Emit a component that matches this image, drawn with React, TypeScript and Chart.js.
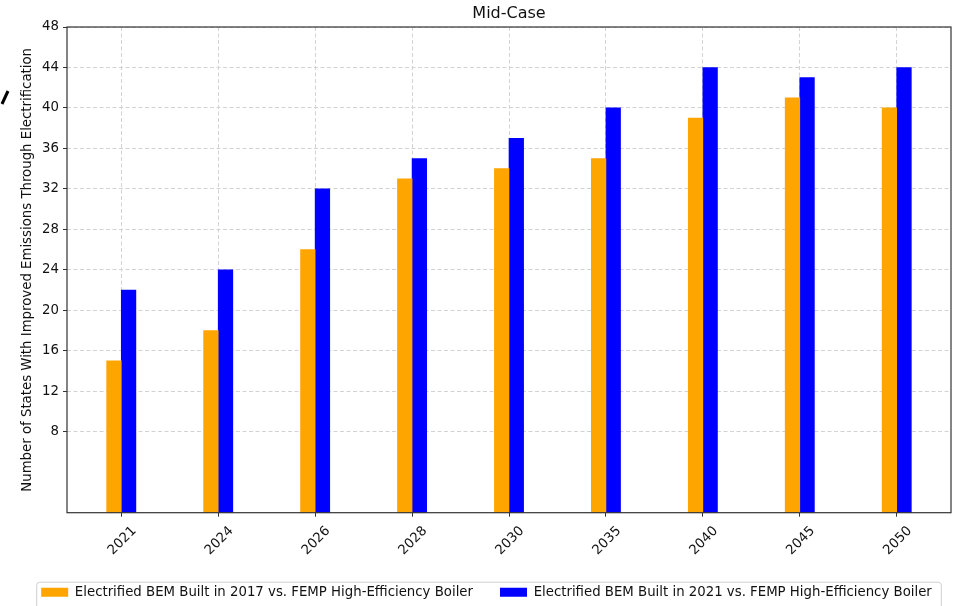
import React, { useEffect, useRef } from 'react';
import { Chart, registerables } from 'chart.js';

Chart.register(...registerables);

const chartTitle = 'Mid-Case';
const yAxisTitle = 'Number of States With Improved Emissions Through Electrification';
const categories = ['2021', '2024', '2026', '2028', '2030', '2035', '2040', '2045', '2050'];
const series2017 = [15, 18, 26, 33, 34, 35, 39, 41, 40];
const series2021 = [22, 24, 32, 35, 37, 40, 44, 43, 44];
const seriesLabels = [
  'Electrified BEM Built in 2017 vs. FEMP High-Efficiency Boiler',
  'Electrified BEM Built in 2021 vs. FEMP High-Efficiency Boiler',
];
const yTicks = [8, 12, 16, 20, 24, 28, 32, 36, 40, 44, 48];

const ORANGE = '#FFA500';
const BLUE = '#0000FF';
const FONT = "'DejaVu Sans', sans-serif";
const FS = 13.3;
const TEXT = '#111';
const GRID = '#d3d3d3';
const AXIS = '#333';

const decorPlugin = {
  id: 'decor',
  afterLayout(chart: any) {
    const lg = chart.legend;
    if (lg) {
      lg.left += 6;
      lg.right += 6;
    }
  },
  afterDatasetsDraw(chart: any) {
    const { ctx, chartArea } = chart;
    ctx.save();
    ctx.strokeStyle = AXIS;
    ctx.lineWidth = 1.2;
    ctx.strokeRect(chartArea.left, chartArea.top, chartArea.right - chartArea.left, chartArea.bottom - chartArea.top);
    ctx.restore();
  },
  afterDraw(chart: any) {
    const { ctx, chartArea } = chart;
    ctx.save();
    ctx.font = `16px ${FONT}`;
    ctx.fillStyle = TEXT;
    ctx.textAlign = 'center';
    ctx.textBaseline = 'middle';
    ctx.fillText(chartTitle, (chartArea.left + chartArea.right) / 2, 14);
    const lg = chart.legend;
    if (lg && lg.legendHitBoxes && lg.legendHitBoxes.length) {
      const hb = lg.legendHitBoxes;
      const l = hb[0].left - 5;
      const r = hb[hb.length - 1].left + hb[hb.length - 1].width + 9;
      const t = hb[0].top - 4;
      const b = t + 30;
      ctx.strokeStyle = '#cfcfcf';
      ctx.lineWidth = 1;
      ctx.beginPath();
      if ((ctx as any).roundRect) (ctx as any).roundRect(l + 0.5, t + 0.5, r - l, b - t, 3);
      else ctx.rect(l + 0.5, t + 0.5, r - l, b - t);
      ctx.stroke();
    }
    ctx.strokeStyle = '#000';
    ctx.lineWidth = 3;
    ctx.beginPath();
    ctx.moveTo(2, 104);
    ctx.lineTo(8, 91);
    ctx.stroke();
    ctx.restore();
  },
};

export default function App() {
  const ref = useRef<HTMLCanvasElement>(null);
  useEffect(() => {
    Chart.defaults.font.family = FONT;
    const chart = new Chart(ref.current as HTMLCanvasElement, {
      type: 'bar',
      data: {
        datasets: [
          {
            label: seriesLabels[0],
            data: series2017.map((y, i) => ({ x: i, y })),
            backgroundColor: ORANGE,
            borderWidth: 0,
            barThickness: 14.6,
          },
          {
            label: seriesLabels[1],
            data: series2021.map((y, i) => ({ x: i, y })),
            backgroundColor: BLUE,
            borderWidth: 0,
            barThickness: 14.6,
          },
        ],
      } as any,
      options: {
        animation: false,
        responsive: false,
        layout: { padding: { left: 0, right: 0, top: 27, bottom: -3 } },
        scales: {
          x: {
            type: 'linear',
            offset: false,
            min: -0.56,
            max: 8.56,
            afterBuildTicks: (s: any) => {
              s.ticks = categories.map((_, i) => ({ value: i }));
            },
            afterFit: (s: any) => {
              s.height = 46;
            },
            ticks: {
              callback: (v: any) => categories[Math.round(Number(v))] ?? '',
              autoSkip: false,
              minRotation: 45,
              maxRotation: 45,
              labelOffset: 13,
              padding: 6.5,
              color: TEXT,
              font: { size: FS },
            },
            grid: { offset: false, color: GRID, lineWidth: 1, tickColor: AXIS, tickLength: 4, tickWidth: 1 },
            border: { display: false, dash: [4, 2.5] },
          },
          y: {
            type: 'linear',
            position: 'left',
            min: 0,
            max: 48,
            afterBuildTicks: (s: any) => {
              s.ticks = yTicks.map((v) => ({ value: v }));
            },
            afterFit: (s: any) => {
              s.width = 67;
            },
            ticks: { color: TEXT, font: { size: FS }, padding: 4 },
            grid: { color: GRID, lineWidth: 1, tickColor: AXIS, tickLength: 4, tickWidth: 1 },
            border: { display: false, dash: [4, 2.5] },
            title: {
              display: true,
              text: yAxisTitle,
              color: TEXT,
              font: { size: FS },
              padding: { top: 20, bottom: 0 },
            },
          },
          yRight: {
            type: 'linear',
            position: 'right',
            display: true,
            afterFit: (s: any) => {
              s.width = 10;
            },
            ticks: { display: false },
            grid: { display: false, drawTicks: false },
            border: { display: false },
          },
        },
        plugins: {
          legend: {
            position: 'bottom',
            labels: {
              boxWidth: 27,
              boxHeight: 9,
              padding: 27,
              color: TEXT,
              font: { size: FS },
            },
          },
          tooltip: { enabled: false },
          title: { display: false },
        },
      } as any,
      plugins: [decorPlugin],
    });
    return () => chart.destroy();
  }, []);
  return (
    <div style={{ position: 'fixed', left: 0, top: 0, width: 961, height: 606, background: '#fff' }}>
      <canvas ref={ref} width={961} height={606} style={{ display: 'block', width: 961, height: 606 }} />
    </div>
  );
}
